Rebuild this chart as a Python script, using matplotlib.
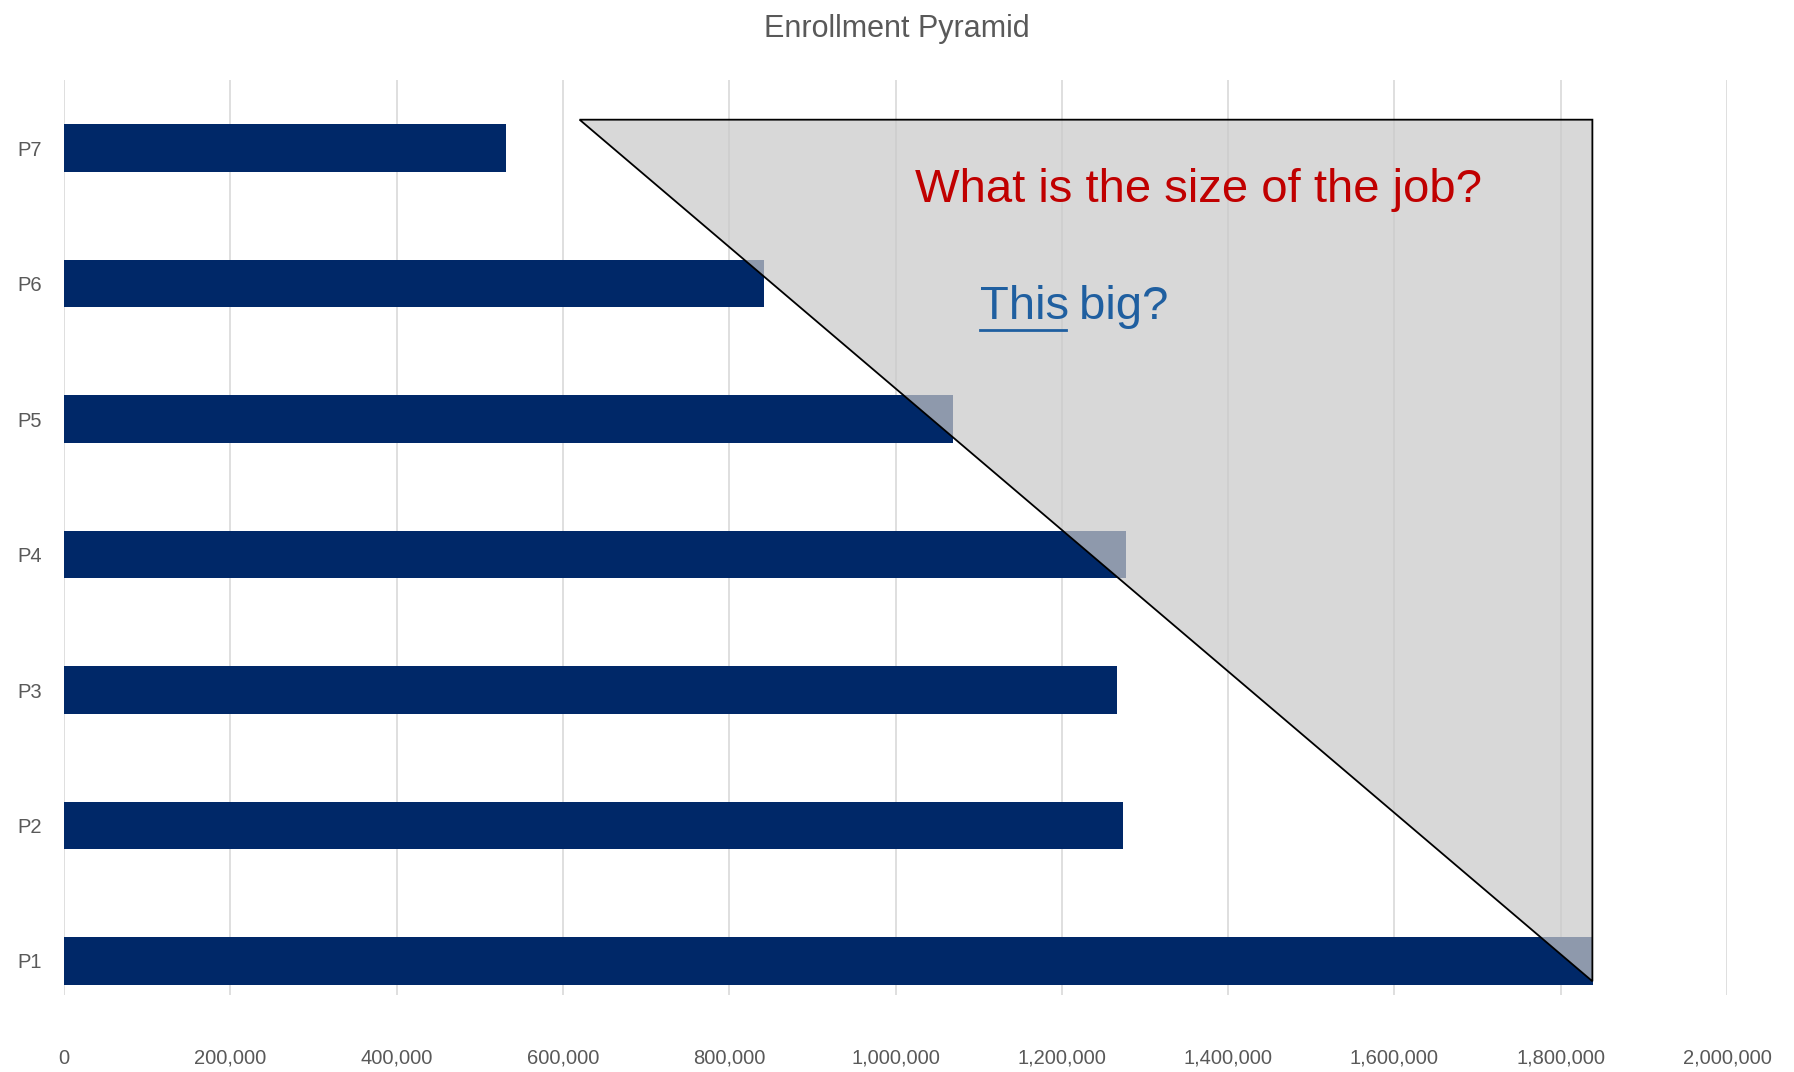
import matplotlib.pyplot as plt
from matplotlib.patches import Polygon

plt.rcParams['font.family'] = ['Liberation Sans', 'DejaVu Sans']

levels = ["P1", "P2", "P3", "P4", "P5", "P6", "P7"]
enrollment = [1839000, 1273000, 1266000, 1277000, 1069000, 842000, 532000]
xticks = [0, 200000, 400000, 600000, 800000, 1000000, 1200000, 1400000, 1600000, 1800000, 2000000]

fig = plt.figure(figsize=(17.94, 10.72), dpi=100)
ax = fig.add_axes([0.0357, 0.072, 0.927, 0.853])

y = list(range(len(levels)))
ax.barh(y, enrollment, height=0.35, color="#002868", zorder=2)

# shaded triangle over the bars
corners = [(620000, 6.21), (1838000, 6.21), (1838000, -0.15)]
ax.add_patch(Polygon(corners, closed=True, facecolor="#c9c9c9", alpha=0.71,
                     edgecolor="none", zorder=3))
ax.add_patch(Polygon(corners, closed=True, facecolor="none", edgecolor="black",
                     lw=1.3, zorder=4))

ax.text(1023000, 5.69, "What is the size of the job?", color="#c00000", fontsize=34,
        va="center", ha="left", zorder=5)
t = ax.text(1102000, 4.83, "This", color="#1f5fa0", fontsize=34, va="center", ha="left", zorder=5)
fig.canvas.draw()
bb = t.get_window_extent().transformed(ax.transData.inverted())
ax.text(bb.x1, 4.83, " big?", color="#1f5fa0", fontsize=34, va="center", ha="left", zorder=5)
ax.plot([bb.x0, bb.x1], [4.66, 4.66], color="#1f5fa0", lw=2, zorder=5)

ax.set_xlim(0, 2000000)
ax.set_ylim(-0.25, 6.5)
ax.set_xticks(xticks)
ax.set_xticklabels([f"{v:,}" for v in xticks], fontsize=14.5, color="#595959")
ax.set_yticks(y)
ax.set_yticklabels(levels, fontsize=14.5, color="#595959")
ax.tick_params(axis="x", length=0, pad=39)
ax.tick_params(axis="y", length=0, pad=16)
ax.grid(axis="x", color="#d9d9d9", lw=1.2, zorder=0)
for s in ax.spines.values():
    s.set_visible(False)
ax.set_axisbelow(True)

fig.suptitle("Enrollment Pyramid", fontsize=22, color="#595959", y=0.987)
fig.savefig("out.png", dpi=100)
